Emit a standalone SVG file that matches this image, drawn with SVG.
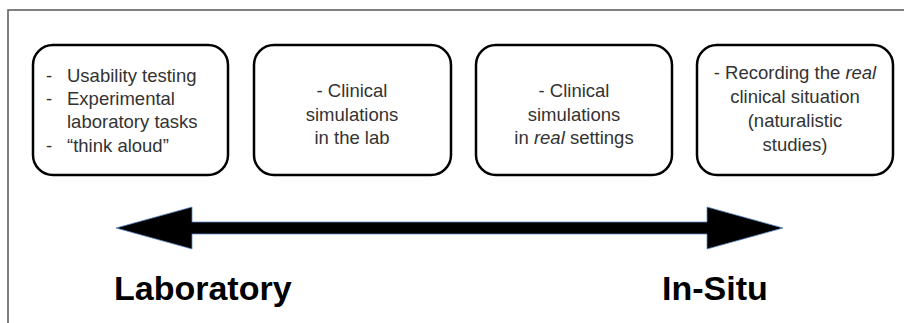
<svg xmlns="http://www.w3.org/2000/svg" width="904" height="323" viewBox="0 0 904 323">
  <style>
    .box { fill: #ffffff; stroke: #000000; stroke-width: 2.5; }
    .t { font-family: "Liberation Sans", Arial, sans-serif; font-size: 18.5px; fill: #333333; }
    .c { text-anchor: middle; }
    .lbl { font-family: "Liberation Sans", Arial, sans-serif; font-size: 34px; font-weight: bold; fill: #000000; }
    .frame { stroke: #555555; stroke-width: 1.5; fill: none; }
  </style>
  <rect x="0" y="0" width="904" height="323" fill="#ffffff"/>
  <g id="frame">
    <polyline class="frame" points="8,323 8,10 904,10"/>
  </g>

  <g id="node-usability">
    <rect class="box" x="33" y="45" width="195" height="130" rx="20" ry="20"/>
    <text class="t" x="46" y="82">-</text>
    <text class="t" x="67" y="82">Usability testing</text>
    <text class="t" x="46" y="105">-</text>
    <text class="t" x="67" y="105">Experimental</text>
    <text class="t" x="67" y="128">laboratory tasks</text>
    <text class="t" x="46" y="152">-</text>
    <text class="t" x="67" y="152">“think aloud”</text>
  </g>

  <g id="node-sim-lab">
    <rect class="box" x="254" y="45" width="197" height="130" rx="20" ry="20"/>
    <text class="t c" x="352" y="97">- Clinical</text>
    <text class="t c" x="352" y="121">simulations</text>
    <text class="t c" x="352" y="144">in the lab</text>
  </g>

  <g id="node-sim-real">
    <rect class="box" x="476" y="45" width="196" height="130" rx="20" ry="20"/>
    <text class="t c" x="574" y="97">- Clinical</text>
    <text class="t c" x="574" y="121">simulations</text>
    <text class="t c" x="574" y="144">in <tspan font-style="italic">real</tspan> settings</text>
  </g>

  <g id="node-recording">
    <rect class="box" x="697" y="45" width="196" height="130" rx="20" ry="20"/>
    <text class="t c" x="795" y="79">- Recording the <tspan font-style="italic">real</tspan></text>
    <text class="t c" x="795" y="103">clinical situation</text>
    <text class="t c" x="795" y="127">(naturalistic</text>
    <text class="t c" x="795" y="151">studies)</text>
  </g>

  <g id="connectors">
    <polygon points="116,228 192,207 192,222 707,222 707,207 783,228 707,249 707,234 192,234 192,249" fill="#000000" stroke="#5b8cc8" stroke-width="0.8" stroke-linejoin="miter"/>
  </g>

  <g id="label-laboratory">
    <text class="lbl" x="114" y="300">Laboratory</text>
  </g>
  <g id="label-insitu">
    <text class="lbl" x="662" y="300">In-Situ</text>
  </g>
</svg>
